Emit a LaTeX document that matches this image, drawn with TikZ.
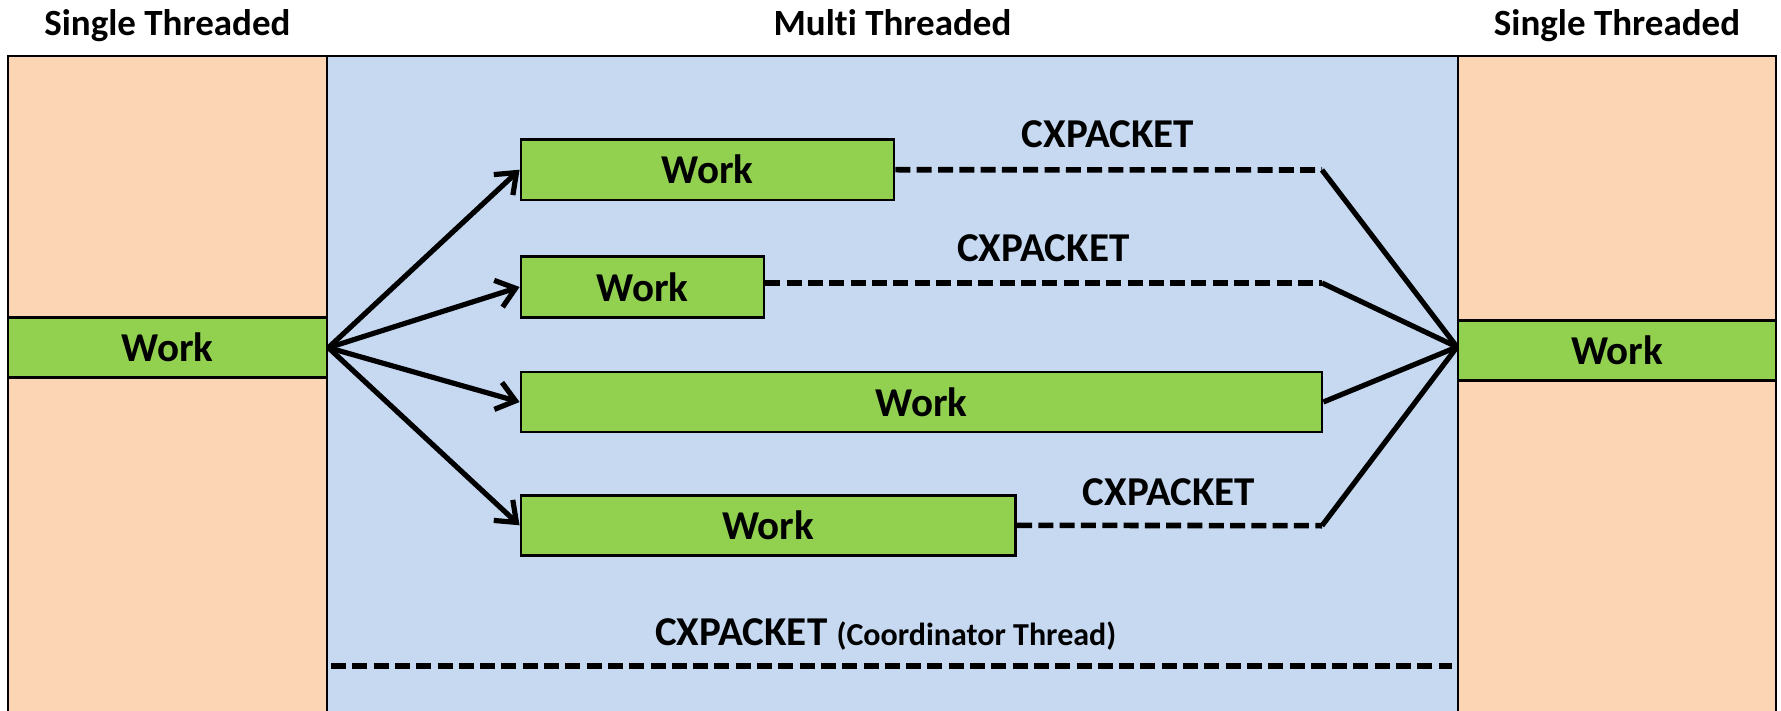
\documentclass[tikz,border=0pt]{standalone}
\usepackage{fontspec}
\setmainfont{Carlito}[Ligatures=NoCommon]
\usetikzlibrary{arrows.meta}
\definecolor{peach}{HTML}{FCD5B5}
\definecolor{paleblue}{HTML}{C6D9F1}
\definecolor{workgreen}{HTML}{92D050}

\begin{document}
\begin{tikzpicture}[x=1pt,y=-1pt,
  panel/.style={draw=black,line width=2.8pt},
  workbox/.style={draw=black,line width=2.8pt,fill=workgreen,inner sep=0pt,
    font=\fontsize{41}{49}\selectfont\bfseries},
  title/.style={anchor=base,inner sep=0pt,font=\fontsize{37}{44}\selectfont\bfseries},
  cxlabel/.style={anchor=base,inner sep=0pt,font=\fontsize{41}{49}\selectfont\bfseries},
  fork/.style={line width=5.2pt,-{Straight Barb[length=18pt,width=28pt]}},
  joinline/.style={line width=5.2pt},
  waitline/.style={line width=5.6pt,dash pattern=on 15pt off 6.3pt}]
\useasboundingbox (0,0) rectangle (1781,711);

% three phase panels
\path[panel,fill=peach]     (8,730) -- (8,56) -- (327,56) -- (327,730);
\path[panel,fill=paleblue]  (327,730) -- (327,56) -- (1458,56) -- (1458,730);
\path[panel,fill=peach]     (1458,730) -- (1458,56) -- (1776,56) -- (1776,730);

% headings
\node[title] (tl) at (167.4,36) {Single Threaded};
\node[title] (tm) at (892.5,36) {Multi Threaded};
\node[title] (tr) at (1617,36) {Single Threaded};

% work items
\node[workbox,minimum width=319pt,minimum height=60pt] (lw) at (167.5,347.7) {Work};
\node[workbox,minimum width=318pt,minimum height=60pt] (rw) at (1617,350.5) {Work};
\node[workbox,minimum width=373pt,minimum height=60.7pt] (b1) at (707.5,169.7) {Work};
\node[workbox,minimum width=243pt,minimum height=60.5pt] (b2) at (642.5,287) {Work};
\node[workbox,minimum width=801pt,minimum height=60pt] (b3) at (921.5,402) {Work};
\node[workbox,minimum width=494.7pt,minimum height=60pt] (b4) at (768.3,525.3) {Work};

% wait end points and join point
\coordinate (d1) at (1322,170);
\coordinate (d2) at (1322,283);
\coordinate (d4) at (1322,525.7);
\coordinate (jn) at (1457,347);
\coordinate (c1) at (331,665.7);
\coordinate (c2) at (1452,665.7);

% fork
\draw[fork] (lw.east) -- (b1.west);
\draw[fork] (lw.east) -- (b2.west);
\draw[fork] (lw.east) -- (b3.west);
\draw[fork] (lw.east) -- (b4.west);

% waits
\draw[waitline] (b1.east) -- (d1);
\draw[waitline] (b2.east |- d2) -- (d2);
\draw[waitline] (b4.east) -- (d4);
\draw[waitline] (c1) -- (c2);

% join
\draw[joinline] (d1) -- (jn);
\draw[joinline] (d2) -- (jn);
\draw[joinline] (b3.east) -- (jn);
\draw[joinline] (d4) -- (jn);

% wait labels
\node[cxlabel] (x1) at (1107.8,147.7) {CXPACKET};
\node[cxlabel] (x2) at (1043.3,261.7) {CXPACKET};
\node[cxlabel] (x4) at (1169,505) {CXPACKET};
\node[cxlabel] (xc) at (885.7,645) {CXPACKET {\fontsize{32}{38}\selectfont(Coordinator Thread)}};
\end{tikzpicture}
\end{document}
